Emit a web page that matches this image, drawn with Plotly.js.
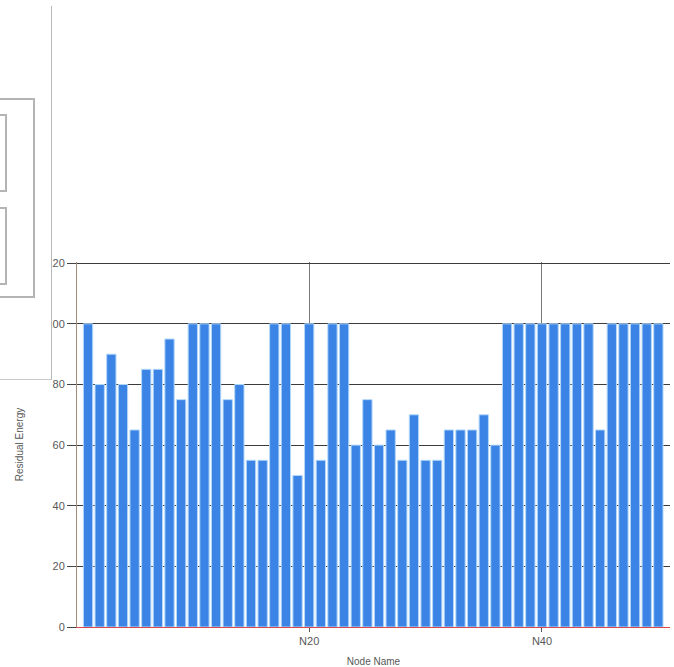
<!DOCTYPE html>
<html>
<head>
<meta charset="utf-8">
<script src="https://cdn.plot.ly/plotly-3.0.1.min.js"></script>
<style>
  body { margin: 0; background: #fff; }
  #wrap { position: relative; width: 674px; height: 667px; overflow: hidden; }
  #plot { position: absolute; left: 0; top: 0; width: 674px; height: 667px; }
  /* the form panel that sits over the upper left of the chart */
  .panel { position: absolute; left: -2px; top: 6px; width: 53px; height: 373px;
           background: #fff; border-right: 1px solid #b8b8b8; border-bottom: 1px solid #c8c8c8; }
  .box { position: absolute; border: 2px solid #b4b4b4; background: #fff; }
</style>
</head>
<body>
<div id="wrap">
  <div id="plot"></div>
  <div class="panel">
    <div class="box" style="left:-4px; top:92px; width:37px; height:196px;"></div>
    <div class="box" style="left:-4px; top:108px; width:9px; height:74px;"></div>
    <div class="box" style="left:-4px; top:201px; width:9px; height:74px;"></div>
  </div>
</div>
<script>
const nodes = ["N1","N2","N3","N4","N5","N6","N7","N8","N9","N10",
               "N11","N12","N13","N14","N15","N16","N17","N18","N19","N20",
               "N21","N22","N23","N24","N25","N26","N27","N28","N29","N30",
               "N31","N32","N33","N34","N35","N36","N37","N38","N39","N40",
               "N41","N42","N43","N44","N45","N46","N47","N48","N49","N50"];

const residualEnergy = [100, 80, 90, 80, 65, 85, 85, 95, 75, 100,
                        100, 100, 75, 80, 55, 55, 100, 100, 50, 100,
                        55, 100, 100, 60, 75, 60, 65, 55, 70, 55,
                        55, 65, 65, 65, 70, 60, 100, 100, 100, 100,
                        100, 100, 100, 100, 65, 100, 100, 100, 100, 100];

const xTicks = ["N20", "N40"];
const yTicks = [0, 20, 40, 60, 80, 100, 120];

const bars = {
    type: "bar",
    x: nodes,
    y: residualEnergy,
    marker: { color: "#3b84e6", line: { color: "#b3d8f8", width: 1 } },
    hoverinfo: "x+y"
};

const tickFont = { family: "Liberation Sans, Arial, sans-serif", size: 11, color: "#585858" };

Plotly.newPlot("plot", [bars], {
    width: 674,
    height: 667,
    margin: { l: 77, r: 4, t: 262, b: 40 },
    paper_bgcolor: "#fff",
    plot_bgcolor: "#fff",
    bargap: 0.2,
    showlegend: false,
    xaxis: {
        type: "category",
        range: [-0.95, 50],
        tickvals: xTicks,
        ticktext: xTicks,
        showgrid: true,
        gridcolor: "#7a7a7a",
        gridwidth: 1,
        showline: true,
        linecolor: "#d9484a",
        linewidth: 1,
        ticks: "outside",
        ticklen: 4,
        tickcolor: "#555",
        tickfont: tickFont,
        title: { text: "Node Name", font: { family: "Liberation Sans, Arial, sans-serif", size: 10, color: "#585858" }, standoff: 13 }
    },
    yaxis: {
        range: [0, 120.4],   // a bit of headroom so the 120 grid line is drawn
        tickvals: yTicks,
        showgrid: true,
        gridcolor: "#3c3c3c",
        gridwidth: 1.2,
        zeroline: false,
        showline: true,
        linecolor: "#a08c7c",
        linewidth: 1,
        ticks: "outside",
        ticklen: 9,
        tickcolor: "#444",
        tickfont: tickFont,
        title: { text: "Residual Energy", font: { family: "Liberation Sans, Arial, sans-serif", size: 10, color: "#585858" }, standoff: 20 }
    }
}, { displayModeBar: false, staticPlot: true });
</script>
</body>
</html>
